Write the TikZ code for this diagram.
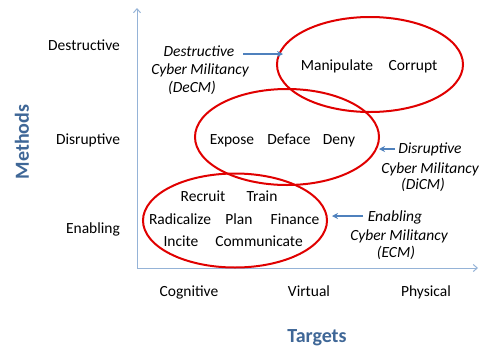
\documentclass[tikz,border=0pt]{standalone}
\usepackage{fontspec}
\setmainfont{Carlito}
\usetikzlibrary{arrows.meta}
\definecolor{axisblue}{HTML}{95B3D7}
\definecolor{titleblue}{HTML}{3F6797}
\definecolor{arrowblue}{HTML}{4F81BD}
\definecolor{ellred}{HTML}{E00000}
\tikzset{
  lbl/.style={inner sep=0pt, text height=11pt, text depth=2pt, font=\fontsize{15.5}{18.5}\selectfont},
  ital/.style={lbl, font=\fontsize{15.5}{18.5}\selectfont\itshape},
  ttl/.style={inner sep=0pt, font=\fontsize{20}{24}\selectfont\bfseries, text=titleblue},
  axis/.style={draw=axisblue, line width=1pt, -{Straight Barb[length=4pt,width=7pt]}},
  ell/.style={draw=ellred, line width=2pt},
  pointer/.style={draw=arrowblue, line width=1.5pt, -{Stealth[length=6pt,width=6pt]}}
}
\begin{document}
\begin{tikzpicture}[x=1pt,y=-1pt]
\useasboundingbox (0,0) rectangle (488,349);
% axes
\coordinate (O) at (137,268);
\coordinate (Ytop) at (137,8);
\coordinate (Xend) at (478,268);
\draw[axis] (O) -- (Ytop);
\draw[axis] (O) -- (Xend);
% axis labels
\node[lbl] (destr) at (84,46) {Destructive};
\node[lbl] (disr) at (88,140) {Disruptive};
\node[lbl] (enab) at (93,229) {Enabling};
\node[lbl] (cog) at (189,292) {Cognitive};
\node[lbl] (virt) at (309,292) {Virtual};
\node[lbl] (phys) at (426,292) {Physical};
\node[ttl] (targets) at (317,338) {Targets};
\node[ttl, rotate=90] (methods) at (22,142) {Methods};
% ellipses
\draw[ell] (370,64.5) ellipse [x radius=93, y radius=47.5];
\draw[ell] (287,137) ellipse [x radius=92, y radius=48];
\draw[ell] (235,220.5) ellipse [x radius=92, y radius=47];
% contents
\node[lbl] (manip) at (337,66) {Manipulate};
\node[lbl] (corrupt) at (413,66) {Corrupt};
\node[lbl] (expose) at (232,140) {Expose};
\node[lbl] (deface) at (289,140) {Deface};
\node[lbl] (deny) at (339,140) {Deny};
\node[lbl] (recruit) at (203,197) {Recruit};
\node[lbl] (train) at (262,197) {Train};
\node[lbl] (radical) at (180,220) {Radicalize};
\node[lbl] (plan) at (239,220) {Plan};
\node[lbl] (finance) at (295,220) {Finance};
\node[lbl] (incite) at (181,242) {Incite};
\node[lbl] (comm) at (259,242) {Communicate};
% italic labels
\node[ital] (decm1) at (199,52) {Destructive};
\node[ital] (decm2) at (200,70) {Cyber Militancy};
\node[ital] (decm3) at (192,88) {(DeCM)};
\node[ital] (dicm1) at (430,149) {Disruptive};
\node[ital] (dicm2) at (430,169) {Cyber Militancy};
\node[ital] (dicm3) at (423,185) {(DiCM)};
\node[ital] (ecm1) at (395,217) {Enabling};
\node[ital] (ecm2) at (399,236) {Cyber Militancy};
\node[ital] (ecm3) at (396,253) {(ECM)};
% pointers
\coordinate (p1s) at (243,54);
\coordinate (p1e) at (283,54);
\coordinate (p2s) at (395,149);
\coordinate (p2e) at (379,149);
\coordinate (p3s) at (363,216);
\coordinate (p3e) at (332,216);
\draw[pointer] (p1s) -- (p1e);
\draw[pointer] (p2s) -- (p2e);
\draw[pointer] (p3s) -- (p3e);
\end{tikzpicture}
\end{document}
